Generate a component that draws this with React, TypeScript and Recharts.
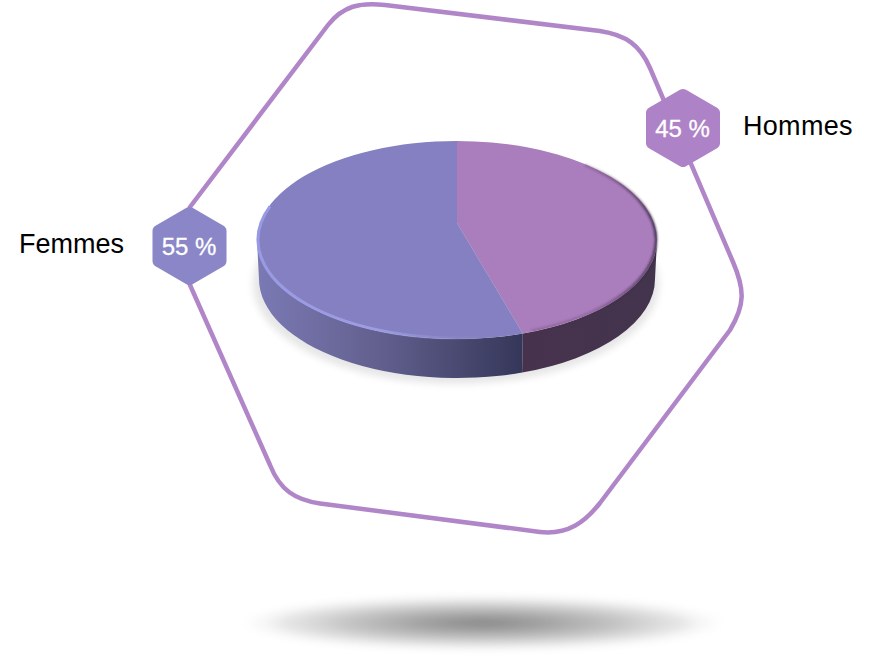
import { PieChart, Pie, Cell } from "recharts";

const GENDERS = ["Hommes", "Femmes"];
const SHARES = [45, 55];
const SLICE_COLORS = ["#aa7dbd", "#8480c1"];
const BADGE_COLORS = ["#ae82c6", "#8a86c8"];
const WALL_FILLS = ["url(#wallHommes)", "url(#wallFemmes)"];

const pieData = GENDERS.map((name, i) => ({ name, value: SHARES[i] }));

const CX = 457;
const CY = 240;
const RX = 200;
const RY = 99;
const DEPTH = 39;
const VERTEX_LIFT = 17; // the drawn apex sits above the ellipse centre
const SEAM_SKEW = 3.9; // foreshortening of the slice seams on the rim
const FONT = "'Liberation Sans', Arial, sans-serif";

const rad = (a: number) => (a * Math.PI) / 180;

function rimPoint(cx: number, cy: number, rx: number, ry: number, a: number) {
  return [cx + rx * Math.cos(rad(a)), cy - ry * Math.sin(rad(a))];
}

function arcTo(rx: number, ry: number, p: number[], clockwise: boolean, large = false) {
  return `A${rx} ${ry} 0 ${large ? 1 : 0} ${clockwise ? 1 : 0} ${p[0]} ${p[1]}`;
}

// Flattened slice with its side wall, built from the angles Recharts computes
function Slice3D(props: any) {
  const { cx, cy, outerRadius, fill, index } = props;
  const startAngle = props.startAngle + SEAM_SKEW * Math.cos(rad(props.startAngle));
  const endAngle = props.endAngle + SEAM_SKEW * Math.cos(rad(props.endAngle));
  const ry = outerRadius * (RY / RX);
  const start = rimPoint(cx, cy, outerRadius, ry, startAngle);
  const end = rimPoint(cx, cy, outerRadius, ry, endAngle);
  const large = Math.abs(startAngle - endAngle) > 180;
  const top = `M${cx} ${cy - VERTEX_LIFT}L${start[0]} ${start[1]}${arcTo(outerRadius, ry, end, true, large)}Z`;

  // only the part of the rim facing the viewer has a wall
  const wallStart = Math.min(startAngle, 0);
  const wallEnd = Math.max(endAngle, -180);
  const w1 = rimPoint(cx, cy, outerRadius, ry, wallStart);
  const w2 = rimPoint(cx, cy, outerRadius, ry, wallEnd);
  const inset = outerRadius - 2;
  const b1 = rimPoint(cx, cy + DEPTH, inset, ry, wallStart);
  const b2 = rimPoint(cx, cy + DEPTH, inset, ry, wallEnd);
  const wall = `M${w1[0]} ${w1[1]}${arcTo(outerRadius, ry, w2, true)}L${b2[0]} ${b2[1]}${arcTo(inset, ry, b1, false)}Z`;

  const hi1 = rimPoint(cx, cy, outerRadius - 1, ry - 1, -200);
  const hi2 = rimPoint(cx, cy, outerRadius - 1, ry - 1, -78);
  const edge1 = rimPoint(cx, cy, outerRadius - 1, ry - 1, 50);
  const edge2 = rimPoint(cx, cy, outerRadius - 1, ry - 1, -68);

  return (
    <g>
      <path d={wall} fill={WALL_FILLS[index]} />
      <path d={top} fill={fill} />
      {index === 1 ? (
        <path
          d={`M${hi1[0]} ${hi1[1]}${arcTo(outerRadius - 1, ry - 1, hi2, false)}`}
          fill="none"
          stroke="url(#rimLight)"
          strokeWidth={3}
          filter="url(#softer)"
        />
      ) : (
        <path
          d={`M${edge1[0]} ${edge1[1]}${arcTo(outerRadius - 1, ry - 1, edge2, true)}`}
          fill="none"
          stroke="url(#rimDark)"
          strokeWidth={2.5}
          filter="url(#soft)"
        />
      )}
    </g>
  );
}

const BADGE_CENTERS = [
  [683, 128],
  [189.5, 246],
];

// Percent badge and category name for one slice
function renderBadge(props: any) {
  const { index, name, value } = props;
  const [x, y] = BADGE_CENTERS[index];
  const w = 31;
  const h = 33;
  const side = 15;
  const points = [
    [x, y - h],
    [x + w, y - side],
    [x + w, y + side],
    [x, y + h],
    [x - w, y + side],
    [x - w, y - side],
  ]
    .map((p) => p.join(","))
    .join(" ");
  return (
    <g key={name}>
      <polygon
        points={points}
        fill={BADGE_COLORS[index]}
        stroke={BADGE_COLORS[index]}
        strokeWidth={12}
        strokeLinejoin="round"
      />
      <text
        x={x - 0.5}
        y={y + 8.5}
        textAnchor="middle"
        fill="#fff"
        stroke="#fff"
        strokeWidth={0.3}
        fontSize={24}
        fontFamily={FONT}
      >
        {`${value} %`}
      </text>
      <text
        x={index === 0 ? 743 : 19}
        y={index === 0 ? 135 : 253}
        fill="#000"
        fontSize={27}
        letterSpacing={index === 0 ? 0.3 : 0}
        fontFamily={FONT}
      >
        {name}
      </text>
    </g>
  );
}

export default function App() {
  return (
    <div style={{ position: "absolute", left: 0, top: 0, width: 872, height: 656 }}>
      <PieChart width={872} height={656} margin={{ top: 0, right: 0, bottom: 0, left: 0 }}>
        <defs>
          <linearGradient id="wallFemmes" x1="258" x2="523" y1="0" y2="0" gradientUnits="userSpaceOnUse">
            <stop offset="0" stopColor="#7b79b4" />
            <stop offset="0.45" stopColor="#63608f" />
            <stop offset="1" stopColor="#353759" />
          </linearGradient>
          <linearGradient id="wallHommes" x1="523" x2="657" y1="0" y2="0" gradientUnits="userSpaceOnUse">
            <stop offset="0" stopColor="#47324e" />
            <stop offset="1" stopColor="#43344d" />
          </linearGradient>
          <linearGradient id="rimLight" x1="258" x2="500" y1="0" y2="0" gradientUnits="userSpaceOnUse">
            <stop offset="0" stopColor="#9a9ae4" />
            <stop offset="0.5" stopColor="#a09fe6" stopOpacity="0.9" />
            <stop offset="1" stopColor="#8a87c9" stopOpacity="0" />
          </linearGradient>
          <linearGradient id="rimDark" x1="590" x2="657" y1="0" y2="0" gradientUnits="userSpaceOnUse">
            <stop offset="0" stopColor="#4a3350" stopOpacity="0.3" />
            <stop offset="1" stopColor="#33263c" stopOpacity="0.85" />
          </linearGradient>
          <filter id="soft" x="-10%" y="-10%" width="120%" height="120%">
            <feGaussianBlur stdDeviation="1" />
          </filter>
          <filter id="softer" x="-10%" y="-10%" width="120%" height="120%">
            <feGaussianBlur stdDeviation="0.6" />
          </filter>
          <filter id="castBlur" x="-10%" y="-20%" width="120%" height="140%">
            <feGaussianBlur stdDeviation="3.5" />
          </filter>
          <filter id="groundBlur" x="-10%" y="-40%" width="120%" height="180%">
            <feGaussianBlur stdDeviation="4" />
          </filter>
          <radialGradient id="groundShadow">
            <stop offset="0" stopColor="#858585" />
            <stop offset="0.25" stopColor="#9b9b9b" stopOpacity="0.95" />
            <stop offset="0.55" stopColor="#b5b5b5" stopOpacity="0.8" />
            <stop offset="0.8" stopColor="#d5d5d5" stopOpacity="0.6" />
            <stop offset="1" stopColor="#fff" stopOpacity="0" />
          </radialGradient>
        </defs>
        <ellipse
          cx={483}
          cy={623}
          rx={250}
          ry={28}
          fill="url(#groundShadow)"
          filter="url(#groundBlur)"
        />
        <path
          d="M190 207L328 25C343 6 360 2 385 5L600 31C626 35 640 45 650 68L733 262C745 290 745 305 730 330L600 503C585 522 568 535 540 532L320 503.5C295 500 280 490 270 465L190 285Z"
          fill="none"
          stroke="#b086c9"
          strokeWidth={4.5}
        />
        <ellipse cx={456} cy={284} rx={203} ry={100} fill="#dedede" opacity={0.75} filter="url(#castBlur)" />
        <Pie
          data={pieData}
          dataKey="value"
          nameKey="name"
          cx={CX}
          cy={CY}
          outerRadius={RX}
          startAngle={90}
          endAngle={-270}
          stroke="none"
          shape={Slice3D}
          label={renderBadge}
          labelLine={false}
          isAnimationActive={false}
        >
          {pieData.map((entry, i) => (
            <Cell key={entry.name} fill={SLICE_COLORS[i]} />
          ))}
        </Pie>
      </PieChart>
    </div>
  );
}
